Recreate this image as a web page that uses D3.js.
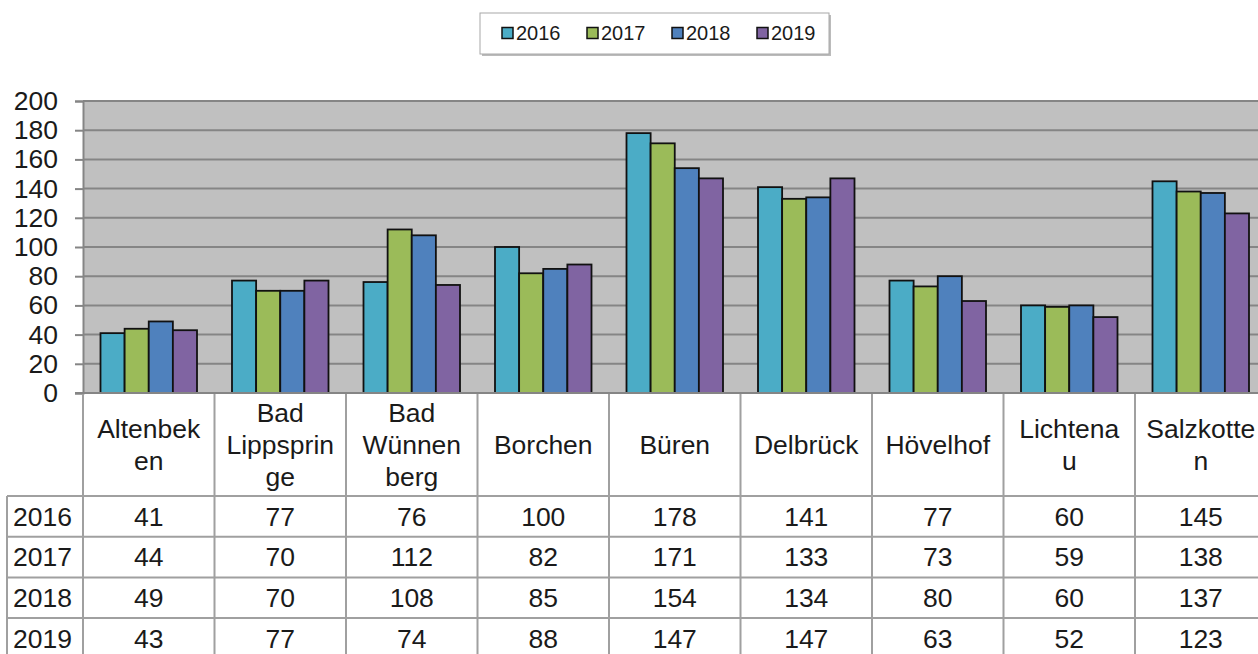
<!DOCTYPE html>
<html>
<head>
<meta charset="utf-8">
<script src="https://d3js.org/d3.v7.min.js"></script>
<style>
  body { margin: 0; background: #fff; overflow: hidden; }
  svg { font-family: "Liberation Sans", Arial, sans-serif; display: block; }
</style>
</head>
<body>
<svg id="chart"></svg>
<script>
// data
const categories = ["Altenbeken", "Bad Lippspringe", "Bad Wünnenberg", "Borchen", "Büren",
                    "Delbrück", "Hövelhof", "Lichtenau", "Salzkotten"];
const headerLines = [["Altenbek", "en"], ["Bad", "Lippsprin", "ge"], ["Bad", "Wünnen", "berg"],
                     ["Borchen"], ["Büren"], ["Delbrück"], ["Hövelhof"], ["Lichtena", "u"], ["Salzkotte", "n"]];
const years = ["2016", "2017", "2018", "2019"];
const v2016 = [41, 77, 76, 100, 178, 141, 77, 60, 145];
const v2017 = [44, 70, 112, 82, 171, 133, 73, 59, 138];
const v2018 = [49, 70, 108, 85, 154, 134, 80, 60, 137];
const v2019 = [43, 77, 74, 88, 147, 147, 63, 52, 123];
const yTicks = [0, 20, 40, 60, 80, 100, 120, 140, 160, 180, 200];
const colors = ["#4bacc6", "#9bbb59", "#4f81bd", "#8064a2"];

const series = [v2016, v2017, v2018, v2019];

const W = 1258, H = 654;
const plotLeft = 83, catW = 131.5;
const plotTop = 101, plotBottom = 393;
const fs = 26.5, textColor = "#1a1a1a";

const svg = d3.select("#chart").attr("width", W).attr("height", H);

const x = d3.scaleBand()
    .domain(categories)
    .range([plotLeft, plotLeft + catW * categories.length])
    .padding(0);

const xs = d3.scaleBand()
    .domain(years)
    .range([17.5, catW - 17.5])
    .padding(0);

const y = d3.scaleLinear().domain([0, 200]).range([plotBottom, plotTop]);

const color = d3.scaleOrdinal().domain(years).range(colors);

// plot background
svg.append("rect")
    .attr("x", plotLeft).attr("y", plotTop)
    .attr("width", W - plotLeft).attr("height", plotBottom - plotTop)
    .attr("fill", "#c0c0c0");

// gridlines
svg.append("g")
    .selectAll("line")
    .data(yTicks)
    .join("line")
    .attr("x1", plotLeft).attr("x2", W)
    .attr("y1", d => y(d)).attr("y2", d => y(d))
    .attr("stroke", "#858585")
    .attr("stroke-width", 2);

// y axis
const yAxis = svg.append("g")
    .attr("transform", `translate(${plotLeft},0)`)
    .call(d3.axisLeft(y).tickValues(yTicks).tickSize(8).tickPadding(17));
yAxis.select(".domain").attr("stroke", "#858585").attr("stroke-width", 2);
yAxis.selectAll(".tick line").attr("stroke", "#858585").attr("stroke-width", 2);
yAxis.selectAll(".tick text")
    .attr("font-size", fs)
    .attr("fill", textColor)
    .attr("font-family", "Liberation Sans, Arial, sans-serif");

// bars
const groups = svg.append("g")
    .selectAll("g")
    .data(categories)
    .join("g")
    .attr("transform", d => `translate(${x(d)},0)`);

groups.selectAll("rect")
    .data((c, i) => years.map((yr, s) => ({ yr, v: series[s][i] })))
    .join("rect")
    .attr("x", d => xs(d.yr))
    .attr("y", d => y(d.v))
    .attr("width", xs.bandwidth())
    .attr("height", d => y(0) - y(d.v))
    .attr("fill", d => color(d.yr))
    .attr("stroke", "#111")
    .attr("stroke-width", 1.8);

// data table
const rowH = 40.7, headerBottom = 496;
const grid = svg.append("g").attr("stroke", "#a0a0a0").attr("stroke-width", 2);

// vertical lines at category boundaries
grid.selectAll("line.v")
    .data(categories)
    .join("line")
    .attr("class", "v")
    .attr("x1", d => x(d)).attr("x2", d => x(d))
    .attr("y1", plotBottom).attr("y2", H);
grid.append("line")
    .attr("x1", x(categories[categories.length - 1]) + x.bandwidth())
    .attr("x2", x(categories[categories.length - 1]) + x.bandwidth())
    .attr("y1", plotBottom).attr("y2", H);
// left border of row labels
grid.append("line").attr("x1", 7).attr("x2", 7).attr("y1", headerBottom).attr("y2", H);
// horizontal row lines
grid.selectAll("line.h")
    .data(d3.range(years.length))
    .join("line")
    .attr("class", "h")
    .attr("x1", 7).attr("x2", W)
    .attr("y1", i => headerBottom + i * rowH)
    .attr("y2", i => headerBottom + i * rowH);

// axis line over the table top
svg.append("line")
    .attr("x1", plotLeft - 8).attr("x2", W)
    .attr("y1", plotBottom).attr("y2", plotBottom)
    .attr("stroke", "#858585").attr("stroke-width", 2);

// header labels
const headerMid = (plotBottom + headerBottom) / 2, lineH = 32;
svg.append("g")
    .selectAll("text")
    .data(categories)
    .join("text")
    .attr("text-anchor", "middle")
    .attr("font-size", fs)
    .attr("fill", textColor)
    .each(function (d, i) {
        const lines = headerLines[i];
        const y0 = headerMid - (lines.length - 1) * lineH / 2;
        d3.select(this).selectAll("tspan")
            .data(lines)
            .join("tspan")
            .attr("x", x(d) + x.bandwidth() / 2)
            .attr("y", (l, k) => y0 + k * lineH)
            .attr("dy", "0.35em")
            .text(l => l);
    });

// rows
years.forEach((yr, s) => {
    const cy = headerBottom + s * rowH + rowH / 2;
    svg.append("text")
        .attr("x", 13).attr("y", cy).attr("dy", "0.35em")
        .attr("font-size", fs).attr("fill", textColor)
        .text(yr);
    svg.append("g")
        .selectAll("text")
        .data(categories)
        .join("text")
        .attr("x", d => x(d) + x.bandwidth() / 2)
        .attr("y", cy).attr("dy", "0.35em")
        .attr("text-anchor", "middle")
        .attr("font-size", fs).attr("fill", textColor)
        .text((d, i) => series[s][i]);
});

// legend
const lg = svg.append("g");
lg.append("rect")
    .attr("x", 482).attr("y", 15).attr("width", 349).attr("height", 41)
    .attr("fill", "#bbb");
lg.append("rect")
    .attr("x", 480).attr("y", 13).attr("width", 349).attr("height", 41)
    .attr("fill", "#fff").attr("stroke", "#a8a8a8").attr("stroke-width", 1);
const items = lg.selectAll("g")
    .data(years)
    .join("g")
    .attr("transform", (d, i) => `translate(${502 + i * 85},33)`);
items.append("rect")
    .attr("x", 0).attr("y", -5.5).attr("width", 11).attr("height", 11)
    .attr("fill", d => color(d))
    .attr("stroke", "#111").attr("stroke-width", 1.5);
items.append("text")
    .attr("x", 14).attr("y", 0).attr("dy", "0.35em")
    .attr("font-size", 20).attr("fill", textColor)
    .text(d => d);
</script>
</body>
</html>
